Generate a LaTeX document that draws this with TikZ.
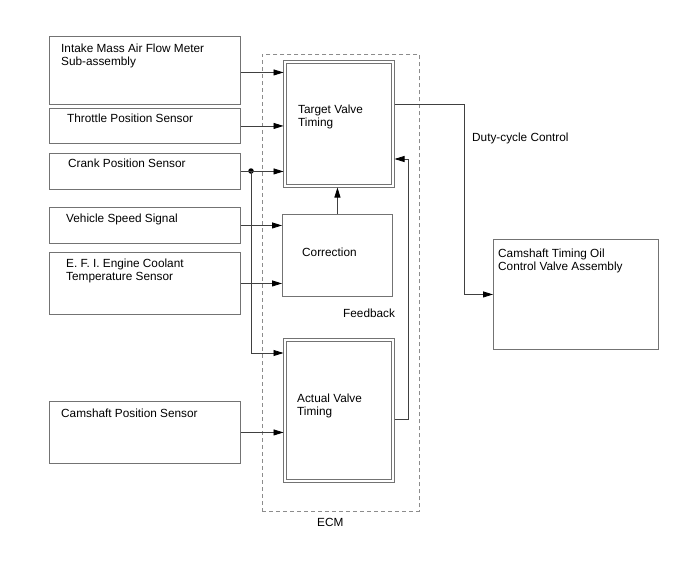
\documentclass[tikz,border=0pt]{standalone}
\usepackage{fontspec}
\setmainfont{Liberation Sans}
\usetikzlibrary{positioning,arrows.meta}

\begin{document}
\begin{tikzpicture}[x=1pt, y=-1pt,
    box/.style={draw=black!55, line width=0.9pt, inner sep=0pt, anchor=north west},
    dbox/.style={draw=black!55, line width=0.8pt, double=white, double distance=2.2pt, inner sep=0pt, outer sep=1.5pt, anchor=north west},
    ecmbox/.style={draw=black!45, line width=0.9pt, dash pattern=on 4pt off 3pt, inner sep=0pt, anchor=north west},
    txt/.style={font=\fontsize{11.8}{13}\selectfont, align=left, inner sep=0pt, anchor=north west},
    wire/.style={draw=black!75, line width=0.8pt},
    arr/.style={wire, -{Triangle[length=10pt,width=6pt,black]}},
    dot/.style={circle, fill=black, inner sep=0pt, minimum size=5.5pt}
]
\useasboundingbox (0,0) rectangle (688,560);

% ECM frame
\node[ecmbox, minimum width=157, minimum height=457] (ecm) at (262,54) {};
\node[txt] (ecmlbl) at (317,518) {ECM};

% Sensor inputs
\node[box, minimum width=191, minimum height=68] (maf) at (49,36) {};
\node[box, minimum width=191, minimum height=35] (tps) at (49,108) {};
\node[box, minimum width=191, minimum height=36] (cps) at (49,153) {};
\node[box, minimum width=191, minimum height=36] (vss) at (49,207) {};
\node[box, minimum width=191, minimum height=62] (ect) at (49,252) {};
\node[box, minimum width=191, minimum height=62] (cmp) at (49,401) {};

\node[txt] (maflbl) at (61,44) {Intake Mass Air Flow Meter\\Sub-assembly};
\node[txt] (tpslbl) at (67,114) {Throttle Position Sensor};
\node[txt] (cpslbl) at (68,159) {Crank Position Sensor};
\node[txt] (vsslbl) at (66,214) {Vehicle Speed Signal};
\node[txt] (ectlbl) at (66,259) {E. F. I. Engine Coolant\\Temperature Sensor};
\node[txt] (cmplbl) at (61,409) {Camshaft Position Sensor};

% ECM blocks
\node[dbox, minimum width=108, minimum height=124] (tvt) at (283.5,60.5) {};
\node[box, minimum width=110, minimum height=82] (corr) at (282,214) {};
\node[dbox, minimum width=108, minimum height=141] (avt) at (283.5,338.5) {};

\node[txt] (tvtlbl) at (298,105) {Target Valve\\Timing};
\node[txt] (corrlbl) at (302,248) {Correction};
\node[txt] (avtlbl) at (297,394) {Actual Valve\\Timing};
\node[txt] (fblbl) at (343,309) {Feedback};

% Output
\node[box, minimum width=165, minimum height=110] (ocv) at (493,239) {};
\node[txt] (ocvlbl) at (498,249) {Camshaft Timing Oil\\Control Valve Assembly};
\node[txt] (dutylbl) at (472,133) {Duty-cycle Control};

% Connections
\node[dot] (jn) at (251,171) {};
\coordinate (cbend) at (251,353);
\coordinate (dout) at (464,104);
\coordinate (fb) at (408,419);
\coordinate (fbtop) at (408,159);

\draw[arr] ([yshift=-2pt]maf.east) -- ([yshift=-2pt]maf.east -| tvt.west);
\draw[arr] (tps.east) -- (tps.east -| tvt.west);
\draw[arr] (cps.east) -- (cps.east -| tvt.west);
\draw[arr] (jn.center) -- (cbend) -- (cbend -| avt.west);
\draw[arr] (vss.east) -- (vss.east -| corr.west);
\draw[arr] (ect.east) -- (ect.east -| corr.west);
\draw[arr] (cmp.east) -- (cmp.east -| avt.west);
\draw[arr] (corr.north) -- (corr.north |- tvt.south);
\draw[arr] (tvt.east |- dout) -- (dout) -- (dout |- ocv.west) -- (ocv.west);
\draw[arr] (avt.east |- fb) -- (fb) -- (fbtop) -- (fbtop -| tvt.east);

\end{tikzpicture}
\end{document}
